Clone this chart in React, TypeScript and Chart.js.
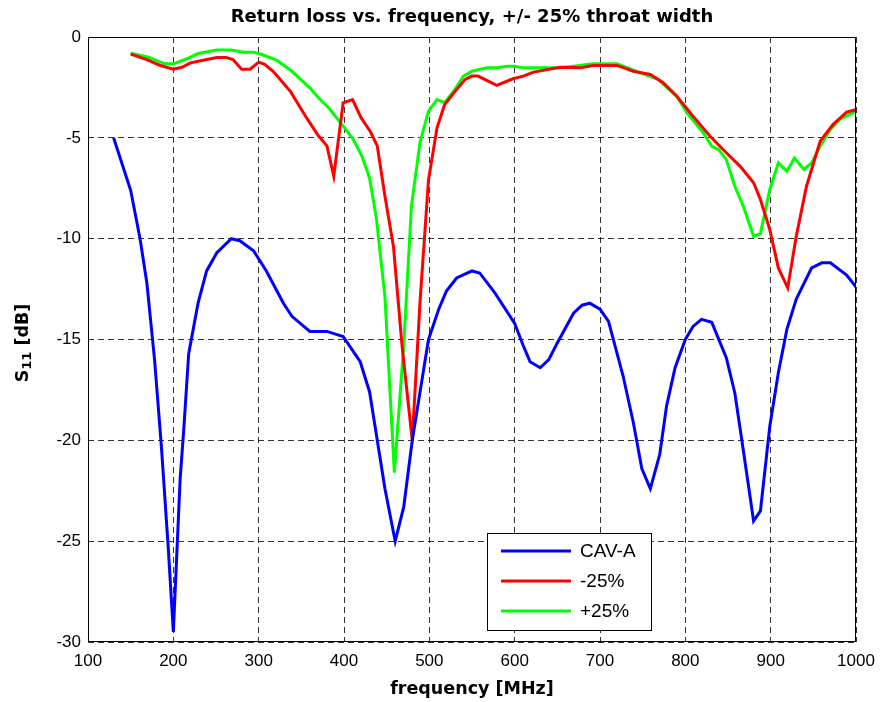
import React, { useEffect, useRef } from "react";
import { Chart, registerables } from "chart.js";

Chart.register(...registerables);

const titleText = "Return loss vs. frequency, +/- 25% throat width";
const xTitle = "frequency [MHz]";
const legendLabels = ["CAV-A", "-25%", "+25%"];
const seriesColors = ["#0000ff", "#ff0000", "#00ff00"];

const xTicks = [100, 200, 300, 400, 500, 600, 700, 800, 900, 1000];
const yTicks = [0, -5, -10, -15, -20, -25, -30];

const freqA = [130,150,161,169,178,186,194,200,208,212,218,229,239,251,268,278,294,309,329,339,360,380,399,419,430,448,460,470,480,499,511,520,532,550,559,577,600,610,618,630,640,649,669,679,688,700,710,727,739,749,759,770,778,788,800,809,819,831,848,858,868,880,888,899,909,919,930,948,960,970,989,1000];
const cavA = [-5.0,-7.6,-10.0,-12.2,-16.0,-20.3,-25.3,-29.5,-21.9,-19.6,-15.7,-13.2,-11.6,-10.7,-10.0,-10.1,-10.6,-11.6,-13.2,-13.85,-14.6,-14.6,-14.85,-16.1,-17.6,-22.4,-25.0,-23.3,-20.0,-15.0,-13.5,-12.6,-11.95,-11.6,-11.7,-12.7,-14.2,-15.3,-16.1,-16.4,-16.0,-15.25,-13.7,-13.3,-13.2,-13.5,-14.1,-16.8,-19.1,-21.4,-22.4,-20.7,-18.3,-16.4,-15.0,-14.35,-14.0,-14.15,-15.9,-17.65,-20.5,-24.0,-23.5,-19.3,-16.65,-14.5,-13.0,-11.45,-11.2,-11.2,-11.8,-12.4];

const freqM = [150,169,184,200,210,220,235,251,262,270,280,290,300,307,317,337,356,370,380,388,399,410,420,431,439,448,458,468,480,489,499,509,518,532,542,550,557,579,598,610,622,653,677,692,720,739,759,774,790,809,829,848,864,880,888,899,909,920,930,942,958,973,989,1000];
const minus25 = [-0.85,-1.12,-1.4,-1.6,-1.5,-1.28,-1.15,-1.02,-1.02,-1.12,-1.6,-1.6,-1.25,-1.36,-1.7,-2.69,-4.0,-4.9,-5.4,-6.9,-3.26,-3.1,-4.0,-4.7,-5.4,-7.9,-10.4,-15.3,-20.0,-13.2,-7.1,-4.5,-3.35,-2.6,-2.1,-1.94,-1.94,-2.4,-2.07,-1.94,-1.74,-1.5,-1.53,-1.41,-1.41,-1.7,-1.86,-2.27,-2.94,-3.93,-4.92,-5.74,-6.4,-7.23,-8.06,-9.55,-11.45,-12.44,-9.88,-7.4,-5.17,-4.34,-3.73,-3.6];

const freqP = [150,171,190,200,216,229,251,268,282,294,304,321,339,360,372,382,399,411,421,430,438,448,459,470,479,489,499,509,518,530,540,550,567,579,591,600,610,630,653,669,692,720,743,768,790,802,821,831,839,848,858,868,880,888,899,909,919,928,939,948,958,970,981,1000];
const plus25 = [-0.8,-1.0,-1.33,-1.33,-1.08,-0.82,-0.65,-0.65,-0.75,-0.75,-0.87,-1.15,-1.7,-2.52,-3.1,-3.51,-4.42,-5.08,-5.9,-7.0,-9.0,-12.9,-21.6,-15.3,-8.4,-5.25,-3.68,-3.1,-3.26,-2.6,-1.94,-1.7,-1.53,-1.53,-1.45,-1.45,-1.53,-1.53,-1.53,-1.45,-1.33,-1.33,-1.7,-2.1,-2.94,-3.76,-4.75,-5.42,-5.58,-6.08,-7.4,-8.39,-9.88,-9.75,-7.56,-6.24,-6.65,-6.0,-6.57,-6.24,-5.42,-4.59,-4.09,-3.68];

const toPts = (xs: number[], ys: number[]) => xs.map((x, i) => ({ x, y: ys[i] }));

const decorPlugin = {
  id: "decor",
  afterDraw(chart: any) {
    const ctx = chart.ctx;
    const ca = chart.chartArea;
    ctx.save();
    // frame
    ctx.strokeStyle = "#000";
    ctx.lineWidth = 1;
    ctx.setLineDash([]);
    ctx.strokeRect(Math.round(ca.left) + 0.5, Math.round(ca.top) + 0.5, Math.round(ca.right - ca.left) - 1, Math.round(ca.bottom - ca.top) - 1);
    // title
    ctx.fillStyle = "#000";
    ctx.textAlign = "center";
    ctx.textBaseline = "middle";
    ctx.font = "bold 18px 'DejaVu Sans'";
    ctx.fillText(titleText, (ca.left + ca.right) / 2, 17);
    // x title
    ctx.font = "bold 17.5px 'DejaVu Sans'";
    ctx.fillText(xTitle, (ca.left + ca.right) / 2, 689);
    // y title rotated
    ctx.save();
    ctx.translate(23, 343);
    ctx.rotate(-Math.PI / 2);
    ctx.textAlign = "left";
    ctx.textBaseline = "middle";
    const big = "bold 17.5px 'DejaVu Sans'";
    const small = "bold 13px 'DejaVu Sans'";
    ctx.font = big;
    const wS = ctx.measureText("S").width;
    ctx.font = small;
    const w11 = ctx.measureText("11").width;
    ctx.font = big;
    const wRest = ctx.measureText(" [dB]").width;
    const total = wS + w11 + wRest;
    let x0 = -total / 2;
    ctx.fillText("S", x0, 0);
    x0 += wS;
    ctx.font = small;
    ctx.fillText("11", x0, 5);
    x0 += w11;
    ctx.font = big;
    ctx.fillText(" [dB]", x0, 0);
    ctx.restore();
    // legend
    const lx = 487, ly = 533, lw = 164, lh = 97;
    ctx.fillStyle = "#fff";
    ctx.fillRect(lx, ly, lw, lh);
    ctx.strokeStyle = "#000";
    ctx.lineWidth = 1;
    ctx.strokeRect(lx + 0.5, ly + 0.5, lw, lh);
    ctx.font = "19px 'Liberation Sans'";
    ctx.textAlign = "left";
    ctx.textBaseline = "middle";
    legendLabels.forEach((lab, i) => {
      const yy = 551 + i * 30;
      ctx.strokeStyle = seriesColors[i];
      ctx.lineWidth = 3;
      ctx.beginPath();
      ctx.moveTo(501, yy);
      ctx.lineTo(571, yy);
      ctx.stroke();
      ctx.fillStyle = "#000";
      ctx.fillText(lab, 580, yy + 1);
    });
    ctx.restore();
  },
};

export default function App() {
  const ref = useRef<HTMLCanvasElement | null>(null);
  useEffect(() => {
    document.body.style.margin = "0";
    const canvas = ref.current!;
    const gridOpts = {
      color: "rgba(0,0,0,0.8)",
      lineWidth: 1,
      drawTicks: false,
    };
    const chart = new Chart(canvas, {
      type: "line",
      data: {
        datasets: [
          { label: legendLabels[0], data: toPts(freqA, cavA), borderColor: seriesColors[0], borderWidth: 3, pointRadius: 0, tension: 0, fill: false },
          { label: legendLabels[1], data: toPts(freqM, minus25), borderColor: seriesColors[1], borderWidth: 3, pointRadius: 0, tension: 0, fill: false },
          { label: legendLabels[2], data: toPts(freqP, plus25), borderColor: seriesColors[2], borderWidth: 3, pointRadius: 0, tension: 0, fill: false },
        ],
      },
      options: {
        animation: false,
        responsive: false,
        devicePixelRatio: 1,
        layout: { padding: { top: 37, right: 24, left: 0, bottom: 0 } },
        plugins: { legend: { display: false }, title: { display: false }, tooltip: { enabled: false } },
        scales: {
          x: {
            type: "linear",
            min: 100,
            max: 1000,
            afterBuildTicks: (s: any) => { s.ticks = xTicks.map((v) => ({ value: v })); },
            afterFit: (s: any) => { s.height = 60; s.paddingLeft = 0; s.paddingRight = 0; },
            grid: gridOpts as any,
            border: { display: false, dash: [6, 4] } as any,
            ticks: { color: "#000", font: { family: "'Liberation Sans'", size: 17 }, padding: 9, maxRotation: 0, autoSkip: false, callback: (v: any) => String(v) },
          },
          y: {
            type: "linear",
            min: -30,
            max: 0,
            afterBuildTicks: (s: any) => { s.ticks = yTicks.map((v) => ({ value: v })); },
            afterFit: (s: any) => { s.width = 88; s.paddingTop = 0; s.paddingBottom = 0; },
            grid: gridOpts as any,
            border: { display: false, dash: [6, 4] } as any,
            ticks: { color: "#000", font: { family: "'Liberation Sans'", size: 17 }, padding: 7, autoSkip: false, callback: (v: any) => String(v) },
          },
        },
      } as any,
      plugins: [decorPlugin],
    });
    return () => chart.destroy();
  }, []);
  return <canvas ref={ref} width={880} height={702} style={{ display: "block" }} />;
}
